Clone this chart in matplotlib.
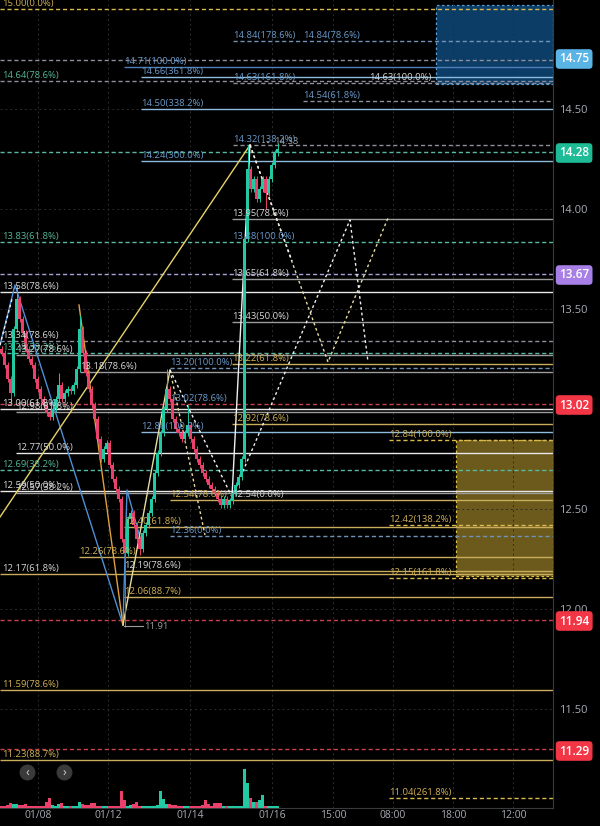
import matplotlib
matplotlib.use("Agg")
import matplotlib.pyplot as plt
from matplotlib.patches import Rectangle
from matplotlib.transforms import blended_transform_factory

plt.rcParams["font.family"] = ["Open Sans", "DejaVu Sans"]

BG = "#000000"
UP = "#22c9a2"
DOWN = "#e9416c"

# ---- price data (one candle every 3 chart units) ----
first_open = 13.30
closes = [13.28, 13.22, 13.15, 13.08, 13.40, 13.55, 13.45, 13.38, 13.30, 13.25,
          13.22, 13.15, 13.10, 13.05, 13.02, 12.98, 12.96, 13.00, 13.05, 13.12,
          13.05, 13.08, 13.10, 13.09, 13.12, 13.20, 13.40, 13.28, 13.18, 13.10,
          13.02, 12.95, 12.85, 12.75, 12.80, 12.83, 12.72, 12.65, 12.60, 12.55,
          12.35, 12.28, 12.45, 12.48, 12.42, 12.35, 12.30, 12.38, 12.42, 12.48,
          12.55, 12.68, 12.78, 12.88, 13.00, 13.10, 13.05, 12.95, 12.90, 12.88,
          12.85, 12.88, 12.92, 12.85, 12.80, 12.75, 12.72, 12.68, 12.65, 12.62,
          12.60, 12.58, 12.55, 12.52, 12.55, 12.52, 12.54, 12.58, 12.62, 12.66,
          12.75, 13.85, 14.20, 14.10, 14.15, 14.05, 14.10, 14.15, 14.08, 14.15,
          14.22, 14.28, 14.30]
volumes = [2, 2, 3, 5, 4, 4, 3, 3, 4, 2, 2, 2, 2, 2, 2, 6, 10, 3, 2, 4,
           5, 2, 2, 2, 2, 2, 6, 4, 3, 3, 5, 5, 2, 2, 2, 2, 2, 2, 2, 2,
           17, 8, 2, 3, 4, 6, 2, 2, 2, 2, 2, 2, 3, 17, 9, 4, 4, 3, 3, 2,
           2, 2, 2, 2, 2, 2, 2, 3, 8, 4, 2, 5, 5, 5, 2, 2, 2, 2, 2, 2,
           2, 39, 25, 10, 6, 6, 8, 13, 2, 2, 2, 2, 2]
wick_highs = {5: 13.62, 19: 13.18, 26: 13.47, 55: 13.20, 62: 13.02, 82: 14.32, 92: 14.33}
wick_lows = {3: 13.03, 41: 11.91, 46: 12.27, 88: 14.00}

# ---- fibonacci levels ----
level_prices = [15.00, 14.84, 14.745, 14.71, 14.66, 14.64, 14.63, 14.54, 14.50, 14.32,
                14.285, 14.24, 13.95, 13.835, 13.675, 13.65, 13.585, 13.435, 13.34, 13.28,
                13.27, 13.225, 13.205, 13.185, 13.025, 13.00, 12.985, 12.925, 12.885, 12.845,
                12.78, 12.695, 12.59, 12.58, 12.545, 12.42, 12.41, 12.365, 12.26, 12.19,
                12.175, 12.155, 12.06, 11.945, 11.595, 11.30, 11.245, 11.055]
level_texts = ["15.00(0.0%)", "14.84(178.6%)", "", "14.71(100.0%)", "14.66(361.8%)",
               "14.64(78.6%)", "14.63(161.8%)", "14.54(61.8%)", "14.50(338.2%)", "14.32(138.2%)",
               "", "14.24(300.0%)", "13.95(78.6%)", "13.83(61.8%)", "",
               "13.65(61.8%)", "13.58(78.6%)", "13.43(50.0%)", "13.34(78.6%)", "13.28(38.2%)",
               "13.27(78.6%)", "13.22(61.8%)", "13.20(100.0%)", "13.18(78.6%)", "13.02(78.6%)",
               "13.00(61.8%)", "12.98(61.8%)", "12.92(78.6%)", "12.88(100.0%)", "12.84(100.0%)",
               "12.77(50.0%)", "12.69(38.2%)", "12.59(50.0%)", "12.57(38.2%)", "12.54(78.6%)",
               "12.42(138.2%)", "12.40(61.8%)", "12.36(0.0%)", "12.26(78.6%)", "12.19(78.6%)",
               "12.17(61.8%)", "12.15(161.8%)", "12.06(88.7%)", "", "11.59(78.6%)",
               "", "11.23(88.7%)", "11.04(261.8%)"]

# extra labels sharing a line with another level
extra_prices = [14.84, 14.63, 13.835, 12.545]
extra_texts = ["14.84(78.6%)", "14.63(100.0%)", "13.88(100.0%)", "12.54(0.0%)"]

tag_prices = [14.75, 14.28, 13.67, 13.02, 11.94, 11.29]
tick_prices = [14.50, 14.00, 13.50, 13.00, 12.50, 12.00, 11.50]
time_ticks = ["01/08", "01/12", "01/14", "01/16", "15:00", "08:00", "18:00", "12:00"]

# ---- drawing styles ----
LC = {"w": "#e8e8e8", "g": "#9c9c9c", "au": "#c9ad5c", "lb": "#8fbcdc", "sb": "#4d7fb8",
      "dg": "#8e8e9c", "tl": "#5ab8a0", "rd": "#c8414f", "da": "#d9b94e", "lv": "#a8a0d8",
      "db": "#6f93b8"}
TC = {"w": "#d6d6d6", "g": "#d2b256", "b": "#6b9bcb", "t": "#54b698"}

# (line start x, line color, linestyle, label x, label color)
level_draw = [(0, "da", "--", 2, "g"), (233, "db", "--", 233, "b"), (0, "dg", "--", 0, "w"),
              (124, "sb", "-", 124, "b"), (141, "lb", "-", 141, "b"), (0, "dg", "--", 2, "t"),
              (233, "dg", "--", 233, "b"), (303, "dg", "--", 303, "b"), (141, "lb", "-", 141, "b"),
              (233, "dg", "--", 233, "b"), (0, "tl", "--", 0, "w"), (141, "lb", "-", 141, "b"),
              (232, "g", "-", 232, "w"), (0, "tl", "--", 2, "t"), (0, "lv", "--", 0, "w"),
              (232, "g", "-", 232, "w"), (0, "w", "-", 2, "w"), (232, "g", "-", 232, "w"),
              (0, "dg", "--", 2, "w"), (0, "tl", "--", 2, "t"), (16, "g", "-", 16, "w"),
              (232, "au", "-", 232, "g"), (170, "db", "--", 170, "b"), (80, "g", "-", 80, "w"),
              (0, "rd", "--", 170, "b"), (0, "w", "-", 2, "w"), (16, "g", "-", 16, "w"),
              (232, "au", "-", 232, "g"), (141, "lb", "-", 141, "b"), (389, "da", "--", 389, "g"),
              (16, "w", "-", 16, "w"), (0, "tl", "--", 2, "t"), (0, "w", "-", 2, "w"),
              (16, "g", "-", 16, "w"), (170, "au", "-", 170, "g"), (389, "da", "--", 389, "g"),
              (124, "au", "-", 124, "g"), (170, "db", "--", 170, "b"), (79, "au", "-", 79, "g"),
              (124, "au", "-", 124, "w"), (0, "au", "-", 2, "w"), (389, "da", "--", 389, "g"),
              (124, "au", "-", 124, "g"), (0, "rd", "--", 0, "w"), (0, "au", "-", 2, "g"),
              (0, "rd", "--", 0, "w"), (0, "au", "-", 2, "g"), (389, "da", "--", 389, "g")]
extra_draw = [(303, "b"), (369, "w"), (232, "b"), (232, "w")]
tag_colors = ["#5ab4e6", "#1ebc96", "#a77fe6", "#f23645", "#f23645", "#f23645"]
time_pos = [38, 108, 190, 272, 333, 393, 453, 513]
X_MAX = 553

fig = plt.figure(figsize=(6, 8.26), dpi=100, facecolor=BG)
ax = fig.add_axes([0, 18 / 826, X_MAX / 600, 808 / 826], facecolor=BG)
ax.set_xlim(0, X_MAX)
ax.set_ylim(11.005, 15.045)

# target zones
ax.add_patch(Rectangle((436, 14.625), X_MAX - 436, 15.02 - 14.625, facecolor="#0c3d66",
                       edgecolor="#5aa0d8", linestyle=(0, (2, 2)), linewidth=0.9, zorder=1))
ax.add_patch(Rectangle((456, 12.165), X_MAX - 456, 12.845 - 12.165, facecolor="#6b5a1c",
                       edgecolor="#e0c040", linestyle=(0, (2, 2)), linewidth=0.9, zorder=1))

# levels
for price, text, (x0, lc, ls, tx, tc) in zip(level_prices, level_texts, level_draw):
    dash = (0, (3, 2)) if ls == "--" else "-"
    ax.hlines(price, x0, X_MAX, colors=LC[lc], linestyles=dash, linewidth=1.0, zorder=2)
    if text:
        ax.annotate(text, (tx, price), xytext=(0, 1), textcoords="offset points",
                    ha="left", va="bottom", fontsize=6.8, color=TC[tc], zorder=6)
for price, text, (tx, tc) in zip(extra_prices, extra_texts, extra_draw):
    ax.annotate(text, (tx, price), xytext=(0, 1), textcoords="offset points",
                ha="left", va="bottom", fontsize=6.8, color=TC[tc], zorder=6)

# harmonic pattern legs
ax.plot([0, 15, 123, 127, 142], [13.32, 13.62, 11.92, 12.595, 12.32], color="#4f8fd6", lw=1.0, zorder=3)
ax.plot([79, 123], [13.52, 11.92], color="#e0a040", lw=1.0, zorder=3)
ax.plot([123, 170], [11.92, 13.195], color="#e6dca0", lw=1.0, zorder=3)
ax.plot([0, 250], [12.46, 14.32], color="#e6d36a", lw=1.0, zorder=3)
ax.plot([232, 250], [12.56, 14.32], color="#f0f0f0", lw=1.0, zorder=3)
ax.plot([250, 328, 388], [14.32, 13.235, 13.955], color="#e6dca0", lw=1.0, ls=(0, (2, 2)), zorder=3)
ax.plot([232, 350, 368], [12.56, 13.945, 13.235], color="#f0f0f0", lw=1.0, ls=(0, (2, 2)), zorder=3)
ax.plot([170, 205], [13.195, 12.37], color="#e6dca0", lw=1.0, ls=(0, (2, 2)), zorder=3)
ax.plot([170, 232], [13.195, 12.56], color="#f0f0f0", lw=1.0, ls=(0, (2, 2)), zorder=3)
ax.plot([250, 292], [14.32, 13.74], color="#f0f0f0", lw=1.0, ls=(0, (2, 2)), zorder=3)
ax.plot([0, 12], [13.32, 13.55], color="#f0f0f0", lw=1.0, ls=(0, (2, 2)), zorder=3)

# candles
opens = [first_open] + closes[:-1]
xs = [1.5 + 3 * i for i in range(len(closes))]
for i, (x, o, c) in enumerate(zip(xs, opens, closes)):
    col = UP if c >= o else DOWN
    hi = wick_highs.get(i, max(o, c) + 0.015)
    lo = wick_lows.get(i, min(o, c) - 0.015)
    ax.vlines(x, lo, hi, color=col, lw=0.7, zorder=4)
    h = c - o if abs(c - o) > 0.006 else 0.006
    ax.bar(x, h, bottom=o, width=2.4, color=col, zorder=4)

# high / low markers
ax.plot([124, 143], [11.915, 11.915], color="#9c9c9c", lw=0.8, zorder=5)
ax.annotate("11.91", (144, 11.915), ha="left", va="center", fontsize=6.8, color="#9c9c9c")
ax.plot([262, 271], [14.335, 14.335], color="#9c9c9c", lw=0.8, ls=(0, (2, 2)), zorder=5)
ax.annotate("14.33", (274, 14.335), ha="left", va="center", fontsize=6.8, color="#9c9c9c")

# axes styling
ax.grid(True, color="#2c2c2c", linestyle=(0, (2, 3)), linewidth=0.7, zorder=0)
ax.yaxis.tick_right()
ax.set_yticks(tick_prices)
ax.set_yticklabels([f"{p:.2f}" for p in tick_prices])
ax.set_xticks(time_pos)
ax.set_xticklabels(time_ticks)
ax.tick_params(axis="y", length=0, pad=4, labelsize=8, labelcolor="#a8abb4")
ax.tick_params(axis="x", length=0, pad=1.5, labelsize=7.5, labelcolor="#a8abb4")
for side in ["top", "left"]:
    ax.spines[side].set_visible(False)
ax.spines["right"].set_color("#3a3a3a")
ax.spines["bottom"].set_color("#3a3a3a")

# last price tags
trans = blended_transform_factory(ax.transAxes, ax.transData)
for price, col in zip(tag_prices, tag_colors):
    ax.text(1.011, price, f"{price:.2f}", transform=trans, ha="left", va="center",
            fontsize=8.5, color="white", clip_on=False, zorder=10, fontweight="semibold",
            bbox=dict(boxstyle="round,pad=0.28,rounding_size=0.3", fc=col, ec="none"))

# scroll buttons
ax.scatter([27, 64], [11.185, 11.185], s=110, color="#3a3a3a", zorder=6)
ax.text(27, 11.185, "‹", ha="center", va="center", fontsize=9, color="#d0d0d0", zorder=7)
ax.text(64, 11.185, "›", ha="center", va="center", fontsize=9, color="#d0d0d0", zorder=7)

# volume
vax = fig.add_axes([0, 18 / 826, X_MAX / 600, 100 / 826])
vax.patch.set_alpha(0)
vax.set_xlim(0, X_MAX)
vax.set_ylim(0, 100)
vcols = [UP if c >= o else DOWN for o, c in zip(opens, closes)]
vax.bar(xs, volumes, width=2.4, color=vcols)
vax.axis("off")

fig.savefig("out.png", dpi=100, facecolor=BG)
